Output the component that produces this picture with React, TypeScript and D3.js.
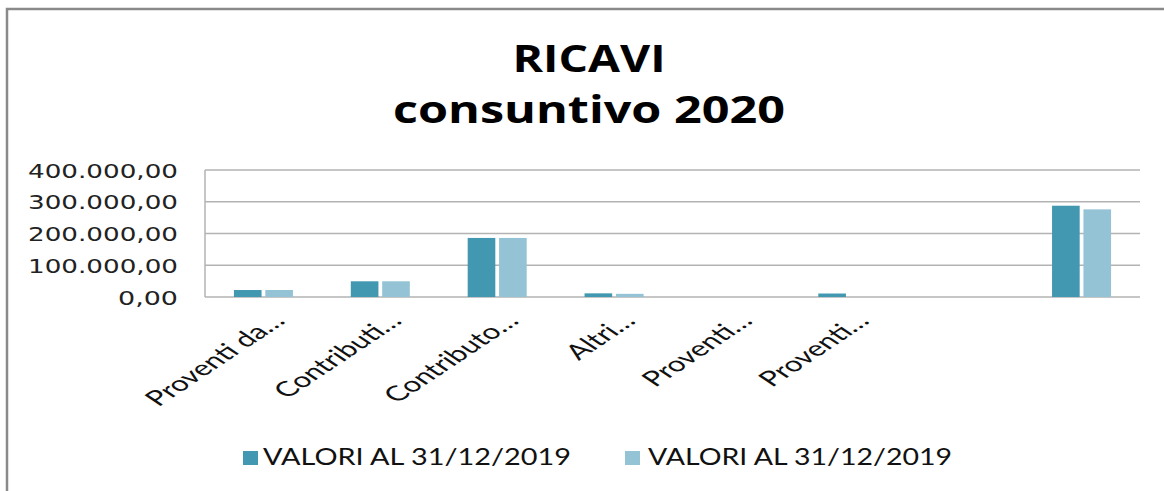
import React from "react";
import * as d3 from "d3";

const categories = ["Proventi da…", "Contributi…", "Contributo…", "Altri…", "Proventi…", "Proventi…", "", ""];
const seriesNames = ["VALORI AL 31/12/2019", "VALORI AL 31/12/2019"];
const series1 = [22000, 49500, 186000, 11500, 0, 11000, 0, 287500];
const series2 = [22000, 49500, 186000, 10000, 0, 0, 0, 276000];
const yTicks = [0, 100000, 200000, 300000, 400000];
const colors = ["#4398B1", "#93C3D5"];

const fmt = (v: number) => {
  const s = d3.format(",.2f")(v);
  return s.replace(/,/g, "#").replace(".", ",").replace(/#/g, ".");
};

export default function App() {
  const W = 1164, H = 491;
  const left = 205, right = 1140, top = 170, bottom = 297;
  const idx = categories.map((_, i) => String(i));
  const x0 = d3.scaleBand<string>().domain(idx).range([left, right]).paddingInner(0.495).paddingOuter(0.2475);
  const x1 = d3.scaleBand<string>().domain(["0", "1"]).range([0, x0.bandwidth()]).paddingInner(0.12);
  const y = d3.scaleLinear().domain([0, 400000]).range([bottom, top]);
  const data = [series1, series2];

  return (
    <svg width={W} height={H} style={{ position: "absolute", left: 0, top: 0, background: "#fff" }}>
      <rect x={0} y={0} width={W} height={H} fill="#fff" />
      <rect x={7} y={9} width={W + 20} height={H + 20} fill="none" stroke="#8a8a8a" strokeWidth={2.5} />
      <g fontFamily="'Open Sans', sans-serif" fontWeight="bold" fill="#000" textAnchor="middle">
        <text x={589} y={72} fontSize={38} textLength={153} lengthAdjust="spacingAndGlyphs">RICAVI</text>
        <text x={589} y={123} fontSize={38} textLength={392} lengthAdjust="spacingAndGlyphs">consuntivo 2020</text>
      </g>
      {yTicks.map((t) => (
        <line key={"g" + t} x1={left} x2={right} y1={y(t)} y2={y(t)} stroke="#b3b3b3" strokeWidth={1.5} />
      ))}
      <line x1={left} x2={left} y1={top} y2={bottom} stroke="#b3b3b3" strokeWidth={1.5} />
      {yTicks.map((t) => (
        <text key={"t" + t} x={178} y={y(t) + 7.5} fontSize={20} fontFamily="'DejaVu Sans', sans-serif" textAnchor="end"
          fill="#222" textLength={fmt(t).length * 15} lengthAdjust="spacingAndGlyphs">{fmt(t)}</text>
      ))}
      {data.map((s, si) =>
        s.map((v, i) =>
          v > 0 ? (
            <rect key={si + "-" + i} x={(x0(String(i)) as number) + (x1(String(si)) as number)} y={y(v)}
              width={x1.bandwidth()} height={bottom - y(v)} fill={colors[si]} />
          ) : null
        )
      )}
      {categories.map((c, i) => {
        const cx = (x0(String(i)) as number) + x0.bandwidth() / 2;
        return c ? (
          <text key={"c" + i} transform={`translate(${cx + 23},${322}) scale(1.5,1) rotate(-45)`} textAnchor="end"
            fontSize={21} fontFamily="Lato, sans-serif" fill="#111">{c}</text>
        ) : null;
      })}
      <g fontFamily="Lato, sans-serif" fontSize={23} fill="#111">
        <rect x={243} y={451} width={15} height={14} fill={colors[0]} />
        <text x={263} y={465} textLength={308} lengthAdjust="spacingAndGlyphs">{seriesNames[0]}</text>
        <rect x={625} y={451} width={15} height={14} fill={colors[1]} />
        <text x={648} y={465} textLength={304} lengthAdjust="spacingAndGlyphs">{seriesNames[1]}</text>
      </g>
    </svg>
  );
}
